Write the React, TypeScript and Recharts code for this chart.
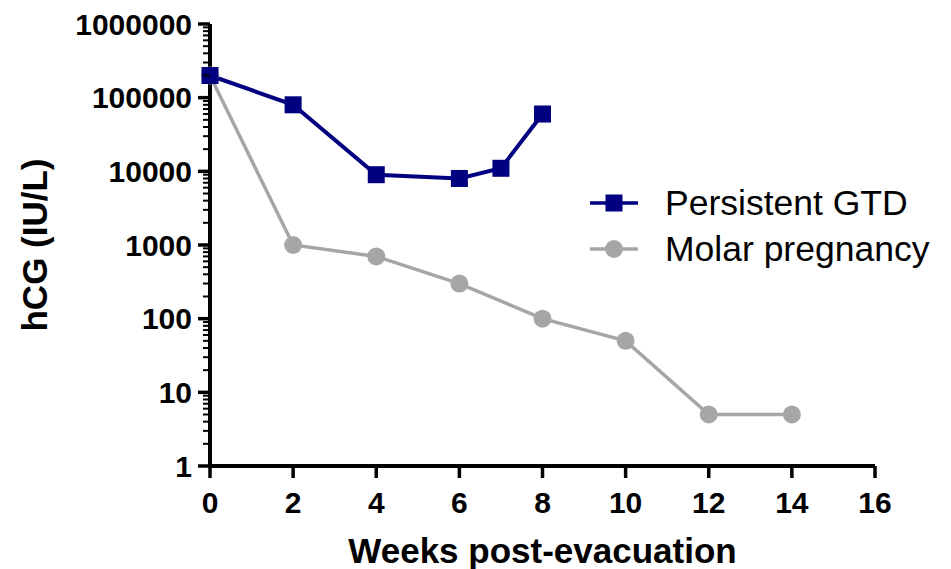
import React from 'react';
import { LineChart, Line, XAxis, YAxis } from 'recharts';

const weeksGTD = [0, 2, 4, 6, 7, 8];
const hcgGTD = [200000, 80000, 9000, 8000, 11000, 60000];

const weeksMolar = [0, 2, 4, 6, 8, 10, 12, 14];
const hcgMolar = [200000, 1000, 700, 300, 100, 50, 5, 5];

const xTicks = [0, 2, 4, 6, 8, 10, 12, 14, 16];
const yMajorTicks = [1, 10, 100, 1000, 10000, 100000, 1000000];
const yMinorMultiples = [2, 3, 4, 5, 6, 7, 8, 9];

const NAVY = '#000080';
const GREY = '#a6a6a9';
const FONT = '"Liberation Sans", Arial, sans-serif';

const gtdData = weeksGTD.map((w, i) => ({ week: w, hcg: hcgGTD[i] }));
const molarData = weeksMolar.map((w, i) => ({ week: w, hcg: hcgMolar[i] }));

const yTicks: number[] = [];
yMajorTicks.forEach((m, i) => {
  yTicks.push(m);
  if (i < yMajorTicks.length - 1) yMinorMultiples.forEach(k => yTicks.push(m * k));
});

const YTick = (props: any) => {
  const { x, y, payload } = props;
  const v = payload.value;
  const major = yMajorTicks.includes(v);
  return (
    <g>
      <line x1={x - (major ? 12 : 7)} x2={x} y1={y} y2={y} stroke="#000" strokeWidth={major ? 3.5 : 2} />
      {major && (
        <text x={x - 18} y={y} dy={10.5} textAnchor="end" fontFamily={FONT} fontWeight="bold" fontSize={30} fill="#000">
          {v}
        </text>
      )}
    </g>
  );
};

const XTick = (props: any) => {
  const { x, y, payload } = props;
  return (
    <g>
      <line x1={x} x2={x} y1={y} y2={y + 12} stroke="#000" strokeWidth={3.5} />
      <text x={x} y={y + 47} textAnchor="middle" fontFamily={FONT} fontWeight="bold" fontSize={30} fill="#000">
        {payload.value}
      </text>
    </g>
  );
};

const SquareDot = (p: any) => (
  <rect key={`sq-${p.index}`} x={p.cx - 8.5} y={p.cy - 8.5} width={17} height={17} fill={NAVY} />
);
const CircleDot = (p: any) => (
  <circle key={`ci-${p.index}`} cx={p.cx} cy={p.cy} r={9} fill={GREY} />
);

const legendItems = [
  { name: 'Persistent GTD', color: NAVY, shape: 'square' },
  { name: 'Molar pregnancy', color: GREY, shape: 'circle' }
];

const ChartLegend = () => (
  <div style={{ position: 'absolute', left: 588, top: 180, fontFamily: FONT, fontSize: 35.5 }}>
    {legendItems.map(it => (
      <div key={it.name} style={{ display: 'flex', alignItems: 'center', height: 46 }}>
        <svg width={77} height={46} style={{ display: 'block' }}>
          <line x1={2} x2={50} y1={23} y2={23} stroke={it.color} strokeWidth={3.5} />
          {it.shape === 'square' ? (
            <rect x={17.5} y={14.5} width={17} height={17} fill={it.color} />
          ) : (
            <circle cx={26} cy={23} r={9} fill={it.color} />
          )}
        </svg>
        <span style={{ color: '#000', lineHeight: '46px', whiteSpace: 'nowrap' }}>{it.name}</span>
      </div>
    ))}
  </div>
);

const YLabel = (props: any) => {
  const vb = props.viewBox;
  const cx = 34;
  const cy = vb.y + vb.height / 2;
  return (
    <text x={cx} y={cy} transform={`rotate(-90 ${cx} ${cy})`} textAnchor="middle" dominantBaseline="central"
      fontFamily={FONT} fontWeight="bold" fontSize={35} fill="#000">
      hCG (IU/L)
    </text>
  );
};

const XLabel = (props: any) => {
  const vb = props.viewBox;
  return (
    <text x={vb.x + vb.width / 2} y={563} textAnchor="middle" fontFamily={FONT} fontWeight="bold" fontSize={35} fill="#000">
      Weeks post-evacuation
    </text>
  );
};

export default function App() {
  return (
    <div style={{ position: 'absolute', left: 0, top: 0, width: 951, height: 569, background: '#fff' }}>
      <LineChart width={951} height={569} margin={{ top: 24, right: 76, bottom: 0, left: 0 }}>
        <XAxis
          dataKey="week"
          type="number"
          domain={[0, 16]}
          ticks={xTicks}
          allowDuplicatedCategory={false}
          axisLine={{ stroke: '#000', strokeWidth: 4 }}
          tickLine={false}
          tickSize={0}
          tickMargin={0}
          tick={<XTick />}
          height={103}
          interval={0}
          label={{ content: <XLabel /> }}
        />
        <YAxis
          type="number"
          scale="log"
          domain={[1, 1000000]}
          ticks={yTicks}
          allowDataOverflow
          axisLine={{ stroke: '#000', strokeWidth: 4 }}
          tickLine={false}
          tickSize={0}
          tickMargin={0}
          tick={<YTick />}
          width={210}
          interval={0}
          label={{ content: <YLabel /> }}
        />
        <Line
          data={molarData}
          dataKey="hcg"
          name="Molar pregnancy"
          stroke={GREY}
          strokeWidth={3.5}
          dot={CircleDot}
          isAnimationActive={false}
          type="linear"
        />
        <Line
          data={gtdData}
          dataKey="hcg"
          name="Persistent GTD"
          stroke={NAVY}
          strokeWidth={4}
          dot={SquareDot}
          isAnimationActive={false}
          type="linear"
        />
      </LineChart>
      <ChartLegend />
    </div>
  );
}
